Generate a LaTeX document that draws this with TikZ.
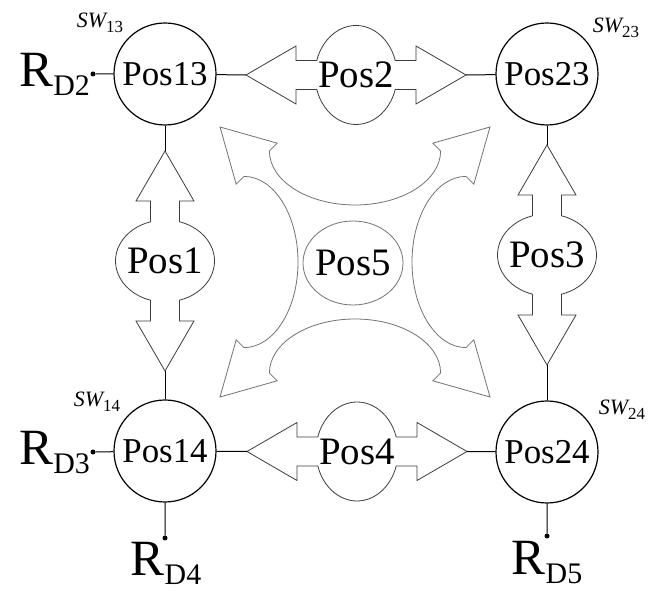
\documentclass[tikz,border=0pt]{standalone}
\usepackage{fontspec}
\setmainfont{Liberation Serif}
\usepackage{tikz}
\definecolor{shapegray}{RGB}{60, 60, 60}
\definecolor{swirlgray}{RGB}{115, 115, 115}

\newcommand{\swfont}{\fontsize{35}{40}\selectfont}
\newcommand{\posfont}{\fontsize{39}{42}\selectfont}
\newcommand{\rdname}[1]{{\fontsize{51}{51}\selectfont R}\raisebox{-9bp}{\fontsize{30}{30}\selectfont D#1}}
\newcommand{\swname}[1]{{\fontsize{22}{22}\selectfont\itshape SW}\raisebox{-5bp}{\fontsize{17}{17}\selectfont #1}}

\tikzset{
  switch/.style={circle, draw, line width=1.2bp, minimum size=102bp, inner sep=0pt, font=\swfont},
  posline/.style={draw=shapegray, fill=white, line width=0.8bp},
  swirl/.style={draw=swirlgray, fill=white, line width=0.8bp},
  wire/.style={line width=1bp},
  dot/.style={circle, fill, inner sep=0pt, minimum size=5bp},
}

% double headed arrow with a bulge in the middle
\newcommand{\posarrow}[3]{%
  \begin{scope}[shift={#1}, rotate=#2]
    \filldraw[posline] (-110,0) -- (-60,-29) -- (-60,-14.5) -- (-39.2,-14.5)
      arc[start angle=197.03, end angle=342.97, x radius=41, y radius=49.5]
      -- (60,-14.5) -- (60,-29) -- (110,0) -- (60,29) -- (60,14.5) -- (39.2,14.5)
      arc[start angle=17.03, end angle=162.97, x radius=41, y radius=49.5]
      -- (-60,14.5) -- (-60,29) -- cycle;
    \coordinate (#3a) at (-110,0);
    \coordinate (#3b) at (110,0);
  \end{scope}}

\begin{document}
\begin{tikzpicture}[x=1bp, y=1bp]
  \useasboundingbox (0,0) rectangle (664,591);

  % centre piece
  \begin{scope}[shift={(355,329)}]
    \filldraw[swirl] (-85.6,111) arc[start angle=180, end angle=360, x radius=85.6, y radius=54]
      -- (77.8,118.8) -- (135,135) -- (118.8,77.8) -- (111,85.6)
      arc[start angle=90, end angle=270, x radius=54, y radius=85.6]
      -- (118.8,-77.8) -- (135,-135) -- (77.8,-118.8) -- (85.6,-111)
      arc[start angle=0, end angle=180, x radius=85.6, y radius=54]
      -- (-77.8,-118.8) -- (-135,-135) -- (-118.8,-77.8) -- (-111,-85.6)
      arc[start angle=270, end angle=450, x radius=54, y radius=85.6]
      -- (-118.8,77.8) -- (-135,135) -- (-77.8,118.8) -- cycle;
  \end{scope}
  \draw[swirl] (353,328) ellipse (50 and 42);
  \node[font=\posfont] (pos5) at (353,328) {Pos5};

  % arrows between the switches
  \posarrow{(356,516)}{0}{pos2}
  \posarrow{(357,139.5)}{0}{pos4}
  \posarrow{(165,330)}{90}{pos1}
  \posarrow{(547,336)}{90}{pos3}
  \node[font=\posfont] (pos2) at (356,516) {Pos2};
  \node[font=\posfont] (pos4) at (357,139.5) {Pos4};
  \node[font=\posfont] (pos1) at (165,330) {Pos1};
  \node[font=\posfont] (pos3) at (547,336) {Pos3};

  % switches
  \node[switch] (sw13) at (165,517) {Pos13};
  \node[switch] (sw23) at (547,517) {Pos23};
  \node[switch] (sw14) at (165,140) {Pos14};
  \node[switch] (sw24) at (547,139) {Pos24};
  \node[anchor=base] (sw13lbl) at (100,563) {\swname{13}};
  \node[anchor=base] (sw23lbl) at (616,558) {\swname{23}};
  \node[anchor=base] (sw14lbl) at (97,184) {\swname{14}};
  \node[anchor=base] (sw24lbl) at (622,176) {\swname{24}};

  \draw[wire] (sw13) -- (pos2a) (pos2b) -- (sw23);
  \draw[wire] (sw14) -- (pos4a) (pos4b) -- (sw24);
  \draw[wire] (sw13) -- (pos1b) (pos1a) -- (sw14);
  \draw[wire] (sw23) -- (pos3b) (pos3a) -- (sw24);

  % ports
  \node[dot] (rd2) at (93,517) {};
  \node[dot] (rd3) at (93,139) {};
  \node[dot] (rd4) at (165,53) {};
  \node[dot] (rd5) at (547,55) {};
  \draw[wire] (rd2) -- (sw13) (rd3) -- (sw14) (rd4) -- (sw14) (rd5) -- (sw24);
  \node[anchor=base east, inner sep=0pt] (rd2lbl) at (90,504) {\rdname{2}};
  \node[anchor=base east, inner sep=0pt] (rd3lbl) at (90,126) {\rdname{3}};
  \node[anchor=base, inner sep=0pt] (rd4lbl) at (166,15) {\rdname{4}};
  \node[anchor=base, inner sep=0pt] (rd5lbl) at (547,16) {\rdname{5}};
\end{tikzpicture}
\end{document}
